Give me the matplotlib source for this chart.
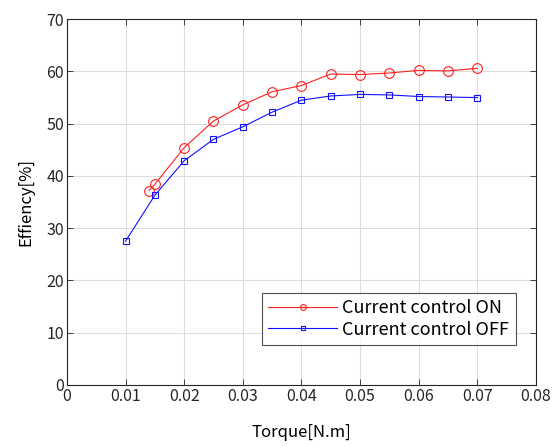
import matplotlib
matplotlib.use("Agg")
import matplotlib.pyplot as plt

plt.rcParams['font.family'] = ['Noto Sans CJK JP', 'DejaVu Sans']

torque_on = [0.014, 0.015, 0.02, 0.025, 0.03, 0.035, 0.04, 0.045, 0.05, 0.055, 0.06, 0.065, 0.07]
eff_on = [37.2, 38.4, 45.4, 50.5, 53.6, 56.1, 57.3, 59.5, 59.4, 59.7, 60.2, 60.1, 60.6]
torque_off = [0.01, 0.015, 0.02, 0.025, 0.03, 0.035, 0.04, 0.045, 0.05, 0.055, 0.06, 0.065, 0.07]
eff_off = [27.5, 36.3, 42.9, 47.0, 49.4, 52.2, 54.5, 55.3, 55.6, 55.5, 55.2, 55.1, 55.0]
labels = ["Current control ON", "Current control OFF"]

fig = plt.figure(figsize=(5.53, 4.46), dpi=100)
ax = fig.add_axes([0.121, 0.137, 0.848, 0.820])
ax.plot(torque_on, eff_on, color='#ff2020', lw=0.8, marker='o', ms=7,
        mfc='none', mec='#ff2020', mew=0.8, label=labels[0])
ax.plot(torque_off, eff_off, color='#1010ff', lw=0.8, marker='s', ms=5,
        mfc='none', mec='#1010ff', mew=0.8, label=labels[1])
ax.set_xlim(0, 0.08)
ax.set_ylim(0, 70)
ax.set_xticks([0, 0.01, 0.02, 0.03, 0.04, 0.05, 0.06, 0.07, 0.08])
ax.set_xticklabels(['0', '0.01', '0.02', '0.03', '0.04', '0.05', '0.06', '0.07', '0.08'])
ax.set_yticks(range(0, 71, 10))
ax.grid(True, color='#dddddd', lw=0.8)
ax.set_axisbelow(True)
for s in ax.spines.values():
    s.set_color('#262626')
    s.set_linewidth(0.8)
ax.tick_params(direction='in', length=4, width=0.6, labelsize=11.5, colors='#262626', pad=2)
ax.tick_params(top=True, right=True)
ax.set_xlabel("Torque[N.m]", fontsize=12, labelpad=14)
ax.set_ylabel("Effiency[%]", fontsize=12, labelpad=9)
leg = ax.legend(loc='lower right', bbox_to_anchor=(0.957, 0.109), fontsize=13,
                frameon=True, fancybox=False, edgecolor='#262626', handlelength=3.8,
                markerscale=0.6, borderpad=0.35, labelspacing=0.2, handletextpad=0.3,
                borderaxespad=0)
leg.get_frame().set_linewidth(0.8)
fig.savefig("out.png", dpi=100)
